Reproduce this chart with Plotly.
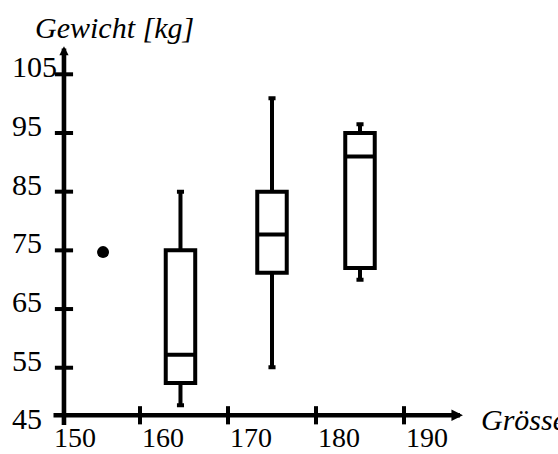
import plotly.graph_objects as go

# Weight distribution per height class (box statistics, kg)
height_pos = [164.6, 175.0, 185.0]
w_low = [48.6, 55.1, 70.0]
w_q1 = [52.4, 71.2, 72.0]
w_med = [57.2, 77.7, 91.0]
w_q3 = [75.0, 85.0, 95.0]
w_high = [85.0, 100.9, 96.5]

# single isolated observation
single_x = [155.8]
single_y = [74.7]

# axis ticks and labels
x_ticks = [160, 170, 180, 190]
x_label_vals = [150, 160, 170, 180, 190]
y_ticks = [55, 65, 75, 85, 95, 105]
y_label_vals = [45, 55, 65, 75, 85, 95, 105]

# where the two axes run
X_AXIS_Y = 46.9
Y_AXIS_X = 151.36
X_AXIS_SPAN = (150, 196.7)
Y_AXIS_SPAN = (45, 109.8)

FONT = "Liberation Serif"
FS = 30
LW = 4.6

fig = go.Figure()

fig.add_trace(go.Box(
    x=height_pos, q1=w_q1, median=w_med, q3=w_q3,
    lowerfence=w_low, upperfence=w_high,
    width=3.35, whiskerwidth=0.24, boxpoints=False,
    line=dict(color="black", width=4),
    fillcolor="rgba(0,0,0,0)", showlegend=False,
))

fig.add_trace(go.Scatter(
    x=single_x, y=single_y, mode="markers",
    marker=dict(color="black", size=12), showlegend=False,
))

# tick marks crossing the axes
fig.add_trace(go.Scatter(
    x=x_ticks, y=[X_AXIS_Y] * len(x_ticks), mode="markers",
    marker=dict(symbol="line-ns", size=13, line=dict(color="black", width=4)),
    showlegend=False, hoverinfo="skip",
))
fig.add_trace(go.Scatter(
    x=[Y_AXIS_X] * len(y_ticks), y=y_ticks, mode="markers",
    marker=dict(symbol="line-ew", size=13, line=dict(color="black", width=4)),
    showlegend=False, hoverinfo="skip",
))

annotations = []
# axis lines with small arrow tips
annotations.append(dict(
    x=X_AXIS_SPAN[1], y=X_AXIS_Y, ax=X_AXIS_SPAN[0], ay=X_AXIS_Y,
    xref="x", yref="y", axref="x", ayref="y", text="",
    showarrow=True, arrowhead=2, arrowsize=0.5, arrowwidth=LW, arrowcolor="black",
    standoff=0, startstandoff=0,
))
annotations.append(dict(
    x=Y_AXIS_X, y=Y_AXIS_SPAN[1], ax=Y_AXIS_X, ay=Y_AXIS_SPAN[0],
    xref="x", yref="y", axref="x", ayref="y", text="",
    showarrow=True, arrowhead=2, arrowsize=0.4, arrowwidth=LW, arrowcolor="black",
    standoff=0, startstandoff=0,
))

for v in x_label_vals:
    annotations.append(dict(
        x=v, y=X_AXIS_Y, xref="x", yref="y", text=str(v), showarrow=False,
        xanchor="left", yanchor="middle", xshift=1, yshift=-22, borderpad=0,
        font=dict(family=FONT, size=28, color="black"),
    ))
for v in y_label_vals:
    annotations.append(dict(
        x=10 / 558, y=v, xref="paper", yref="y", text=str(v), showarrow=False,
        xanchor="left", yanchor="middle", yshift=7.6,
        font=dict(family=FONT, size=FS, color="black"),
    ))

annotations.append(dict(
    x=33 / 558, y=1 - 27 / 454, xref="paper", yref="paper",
    text="<i>Gewicht [kg]</i>", showarrow=False,
    xanchor="left", yanchor="middle",
    font=dict(family=FONT, size=FS, color="black"),
))
annotations.append(dict(
    x=X_AXIS_SPAN[1], y=X_AXIS_Y, xref="x", yref="y",
    text="<i>Grösse [cm]</i>", showarrow=False,
    xanchor="left", yanchor="middle", xshift=16, yshift=-4,
    font=dict(family=FONT, size=FS, color="black"),
))

fig.update_layout(
    width=558, height=454,
    margin=dict(l=0, r=0, t=0, b=0),
    paper_bgcolor="white", plot_bgcolor="white",
    xaxis=dict(range=[144.091, 207.5], visible=False, showgrid=False, zeroline=False),
    yaxis=dict(range=[40.30, 117.66], visible=False, showgrid=False, zeroline=False),
    annotations=annotations,
    showlegend=False,
)

fig.write_html("out.html")
